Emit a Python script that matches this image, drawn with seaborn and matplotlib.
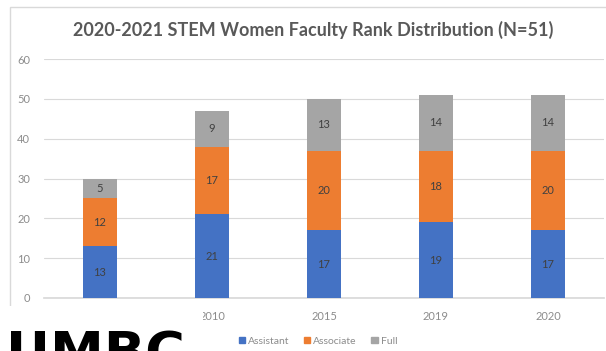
import matplotlib
matplotlib.use("Agg")
import matplotlib.pyplot as plt
from matplotlib.patches import Rectangle, Patch
import seaborn as sns
import pandas as pd
import numpy as np

categories = ["", "2010", "2015", "2019", "2020"]
assistant = [13, 21, 17, 19, 17]
associate = [12, 17, 20, 18, 20]
full = [5, 9, 13, 14, 14]
series_names = ["Assistant", "Associate", "Full"]
colors = ["#4472C4", "#ED7D31", "#A5A5A5"]
title = "2020-2021 STEM Women Faculty Rank Distribution (N=51)"

sns.set_theme(style="white")
plt.rcParams["font.family"] = ["Lato", "DejaVu Sans"]

df = pd.DataFrame({"cat": categories, "Assistant": assistant,
                   "Associate": associate, "Full": full})
df["cum1"] = df["Assistant"]
df["cum2"] = df["Assistant"] + df["Associate"]
df["cum3"] = df["cum2"] + df["Full"]

fig = plt.figure(figsize=(6.06, 3.51), dpi=100)
ax = fig.add_axes([44/606, 53/351, 560/606, 239/351])

order = list(range(len(categories)))
df["pos"] = order
for col, c in zip(["cum3", "cum2", "cum1"], colors[::-1]):
    sns.barplot(data=df, x="pos", y=col, order=order, color=c, width=0.31,
                saturation=1, ax=ax, zorder=3, linewidth=0)

# data labels
for i in range(len(categories)):
    bottoms = [0, assistant[i], assistant[i] + associate[i]]
    vals = [assistant[i], associate[i], full[i]]
    for b, v in zip(bottoms, vals):
        ax.text(i, b + v / 2, str(v), ha="center", va="center",
                fontsize=8, color="#404040", zorder=5)

ax.set_ylim(0, 60)
ax.set_xlim(-0.5, len(categories) - 0.5)
ax.set_yticks(range(0, 61, 10))
ax.set_xticks(order)
ax.set_xticklabels(categories)
ax.set_xlabel("")
ax.set_ylabel("")
ax.yaxis.grid(True, color="#d9d9d9", linewidth=0.8, zorder=0)
ax.set_axisbelow(True)
for s in ["top", "right", "left"]:
    ax.spines[s].set_visible(False)
ax.spines["bottom"].set_color("#d9d9d9")
ax.tick_params(axis="both", length=0, labelsize=8, colors="#8c8c8c")
ax.tick_params(axis="x", pad=9)
ax.tick_params(axis="y", pad=10)

fig.text(313/606, 1 - 30/351, title, ha="center", va="center",
         fontsize=13, fontweight="bold", color="#595959")

# chart frame
fig.add_artist(Rectangle((10/606, -0.1), 1.2, 1 - 7/351 + 0.1,
                         transform=fig.transFigure, fill=False,
                         edgecolor="#d9d9d9", linewidth=1.0, zorder=0))

handles = [Patch(color=c, label=n) for c, n in zip(colors, series_names)]
fig.legend(handles=handles, loc="center", bbox_to_anchor=(318/606, 1 - 341/351),
           ncol=3, frameon=False, fontsize=7.5, handlelength=0.6, handleheight=0.6,
           handletextpad=0.3, columnspacing=1.4, labelcolor="#8c8c8c")

# logo area
fig.add_artist(Rectangle((0, 0), 203/606, 45/351, transform=fig.transFigure,
                         facecolor="white", edgecolor="none", zorder=10))
fig.text(6/606, 1 - 370/351, "UMBC", ha="left", va="baseline", fontsize=39,
         fontweight="bold", color="black", family=["DejaVu Sans"], zorder=11)

fig.savefig("out.png", dpi=100)
